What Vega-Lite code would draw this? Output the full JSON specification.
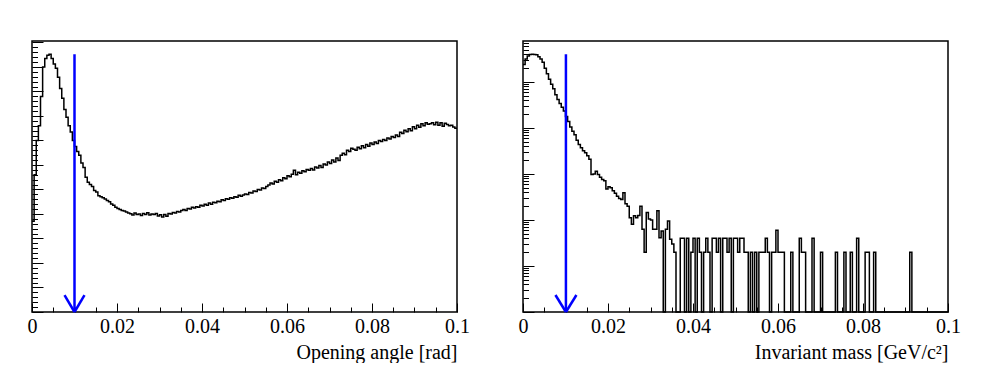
{
"$schema": "https://vega.github.io/schema/vega-lite/v6.json",
"padding": {"left": 26, "top": 40, "right": 0, "bottom": 0},
"background": "white",
"spacing": 46,
"config": {
  "font": "Liberation Serif",
  "view": {"stroke": "#000", "strokeWidth": 1.5},
  "axis": {"grid": false, "domain": false, "tickColor": "#000", "tickWidth": 1, "labelFont": "Liberation Serif", "labelFontSize": 20, "labelColor": "#000", "titleFont": "Liberation Serif", "titleFontSize": 20, "titleFontWeight": "normal", "titleColor": "#000"}
},
"datasets": {
  "angle": [
{"x":0,"c":370},{"x":0.0005,"c":560},{"x":0.001,"c":700},{"x":0.0015,"c":760},{"x":0.002,"c":880},{"x":0.0025,"c":1000},{"x":0.003,"c":1035},{"x":0.0035,"c":1048},{"x":0.004,"c":1052},{"x":0.0045,"c":1035},
{"x":0.005,"c":1012},{"x":0.0055,"c":995},{"x":0.006,"c":958},{"x":0.0065,"c":912},{"x":0.007,"c":872},{"x":0.0075,"c":826},{"x":0.008,"c":795},{"x":0.0085,"c":760},{"x":0.009,"c":735},{"x":0.0095,"c":700},
{"x":0.01,"c":675},{"x":0.0105,"c":655},{"x":0.011,"c":640},{"x":0.0115,"c":608},{"x":0.012,"c":590},{"x":0.0125,"c":550},{"x":0.013,"c":530},{"x":0.0135,"c":520},{"x":0.014,"c":512},{"x":0.0145,"c":496},
{"x":0.015,"c":490},{"x":0.0155,"c":474},{"x":0.016,"c":470},{"x":0.0165,"c":466},{"x":0.017,"c":461},{"x":0.0175,"c":455},{"x":0.018,"c":450},{"x":0.0185,"c":441},{"x":0.019,"c":436},{"x":0.0195,"c":428},
{"x":0.02,"c":422},{"x":0.0205,"c":418},{"x":0.021,"c":414},{"x":0.0215,"c":412},{"x":0.022,"c":408},{"x":0.0225,"c":404},{"x":0.023,"c":401},{"x":0.0235,"c":396},{"x":0.024,"c":404},{"x":0.0245,"c":398},
{"x":0.025,"c":400},{"x":0.0255,"c":394},{"x":0.026,"c":402},{"x":0.0265,"c":398},{"x":0.027,"c":405},{"x":0.0275,"c":396},{"x":0.028,"c":400},{"x":0.0285,"c":398},{"x":0.029,"c":402},{"x":0.0295,"c":392},
{"x":0.03,"c":397},{"x":0.0305,"c":388},{"x":0.031,"c":398},{"x":0.0315,"c":391},{"x":0.032,"c":402},{"x":0.0325,"c":400},{"x":0.033,"c":406},{"x":0.0335,"c":404},{"x":0.034,"c":410},{"x":0.0345,"c":408},
{"x":0.035,"c":414},{"x":0.0355,"c":418},{"x":0.036,"c":414},{"x":0.0365,"c":422},{"x":0.037,"c":420},{"x":0.0375,"c":428},{"x":0.038,"c":424},{"x":0.0385,"c":430},{"x":0.039,"c":428},{"x":0.0395,"c":436},
{"x":0.04,"c":433},{"x":0.0405,"c":440},{"x":0.041,"c":436},{"x":0.0415,"c":445},{"x":0.042,"c":440},{"x":0.0425,"c":448},{"x":0.043,"c":446},{"x":0.0435,"c":452},{"x":0.044,"c":450},{"x":0.0445,"c":458},
{"x":0.045,"c":455},{"x":0.0455,"c":462},{"x":0.046,"c":460},{"x":0.0465,"c":466},{"x":0.047,"c":464},{"x":0.0475,"c":470},{"x":0.048,"c":468},{"x":0.0485,"c":476},{"x":0.049,"c":472},{"x":0.0495,"c":478},
{"x":0.05,"c":482},{"x":0.0505,"c":480},{"x":0.051,"c":488},{"x":0.0515,"c":486},{"x":0.052,"c":494},{"x":0.0525,"c":492},{"x":0.053,"c":500},{"x":0.0535,"c":498},{"x":0.054,"c":506},{"x":0.0545,"c":504},
{"x":0.055,"c":512},{"x":0.0555,"c":518},{"x":0.056,"c":526},{"x":0.0565,"c":522},{"x":0.057,"c":534},{"x":0.0575,"c":530},{"x":0.058,"c":540},{"x":0.0585,"c":536},{"x":0.059,"c":548},{"x":0.0595,"c":544},
{"x":0.06,"c":556},{"x":0.0605,"c":552},{"x":0.061,"c":562},{"x":0.0615,"c":578},{"x":0.062,"c":560},{"x":0.0625,"c":570},{"x":0.063,"c":566},{"x":0.0635,"c":576},{"x":0.064,"c":572},{"x":0.0645,"c":582},
{"x":0.065,"c":578},{"x":0.0655,"c":586},{"x":0.066,"c":580},{"x":0.0665,"c":592},{"x":0.067,"c":588},{"x":0.0675,"c":598},{"x":0.068,"c":590},{"x":0.0685,"c":604},{"x":0.069,"c":600},{"x":0.0695,"c":612},
{"x":0.07,"c":606},{"x":0.0705,"c":620},{"x":0.071,"c":612},{"x":0.0715,"c":628},{"x":0.072,"c":618},{"x":0.0725,"c":640},{"x":0.073,"c":648},{"x":0.0735,"c":642},{"x":0.074,"c":660},{"x":0.0745,"c":655},
{"x":0.075,"c":668},{"x":0.0755,"c":664},{"x":0.076,"c":660},{"x":0.0765,"c":672},{"x":0.077,"c":666},{"x":0.0775,"c":678},{"x":0.078,"c":670},{"x":0.0785,"c":684},{"x":0.079,"c":676},{"x":0.0795,"c":690},
{"x":0.08,"c":684},{"x":0.0805,"c":694},{"x":0.081,"c":688},{"x":0.0815,"c":700},{"x":0.082,"c":696},{"x":0.0825,"c":704},{"x":0.083,"c":700},{"x":0.0835,"c":710},{"x":0.084,"c":706},{"x":0.0845,"c":716},
{"x":0.085,"c":712},{"x":0.0855,"c":722},{"x":0.086,"c":716},{"x":0.0865,"c":734},{"x":0.087,"c":728},{"x":0.0875,"c":742},{"x":0.088,"c":736},{"x":0.0885,"c":748},{"x":0.089,"c":740},{"x":0.0895,"c":756},
{"x":0.09,"c":748},{"x":0.0905,"c":762},{"x":0.091,"c":754},{"x":0.0915,"c":768},{"x":0.092,"c":760},{"x":0.0925,"c":772},{"x":0.093,"c":766},{"x":0.0935,"c":768},{"x":0.094,"c":772},{"x":0.0945,"c":764},
{"x":0.095,"c":774},{"x":0.0955,"c":762},{"x":0.096,"c":772},{"x":0.0965,"c":758},{"x":0.097,"c":770},{"x":0.0975,"c":765},{"x":0.098,"c":760},{"x":0.0985,"c":762},{"x":0.099,"c":755},{"x":0.0995,"c":750},
{"x":0.1,"c":750}
  ],
  "mass": [
{"x":0,"c":240000},{"x":0.0005,"c":316000},{"x":0.001,"c":367000},{"x":0.0015,"c":398000},{"x":0.002,"c":400000},{"x":0.0025,"c":398000},{"x":0.003,"c":389000},{"x":0.0035,"c":355000},{"x":0.004,"c":316000},{"x":0.0045,"c":269000},
{"x":0.005,"c":200000},{"x":0.0055,"c":151000},{"x":0.006,"c":115000},{"x":0.0065,"c":89000},{"x":0.007,"c":71000},{"x":0.0075,"c":52500},{"x":0.008,"c":41700},{"x":0.0085,"c":33900},{"x":0.009,"c":28200},{"x":0.0095,"c":23400},
{"x":0.01,"c":17800},{"x":0.0105,"c":13800},{"x":0.011,"c":10500},{"x":0.0115,"c":8500},{"x":0.012,"c":7100},{"x":0.0125,"c":5400},{"x":0.013,"c":4400},{"x":0.0135,"c":3700},{"x":0.014,"c":3200},{"x":0.0145,"c":2900},
{"x":0.015,"c":2500},{"x":0.0155,"c":2100},{"x":0.016,"c":980},{"x":0.0165,"c":1000},{"x":0.017,"c":1150},{"x":0.0175,"c":980},{"x":0.018,"c":850},{"x":0.0185,"c":760},{"x":0.019,"c":710},{"x":0.0195,"c":470},
{"x":0.02,"c":525},{"x":0.0205,"c":500},{"x":0.021,"c":430},{"x":0.0215,"c":380},{"x":0.022,"c":330},{"x":0.0225,"c":295},{"x":0.023,"c":280},{"x":0.0235,"c":390},{"x":0.024,"c":225},{"x":0.0245,"c":200},
{"x":0.025,"c":112},{"x":0.0255,"c":81},{"x":0.026,"c":123},{"x":0.0265,"c":112},{"x":0.027,"c":126},{"x":0.0275,"c":200},{"x":0.028,"c":63},{"x":0.0285,"c":20},{"x":0.029,"c":145},{"x":0.0295,"c":105},
{"x":0.03,"c":100},{"x":0.0305,"c":63},{"x":0.031,"c":63},{"x":0.0315,"c":158},{"x":0.032,"c":41},{"x":0.0325,"c":58},{"x":0.033,"c":0},{"x":0.0335,"c":63},{"x":0.034,"c":95},{"x":0.0345,"c":38},
{"x":0.035,"c":30},{"x":0.0355,"c":20},{"x":0.036,"c":0},{"x":0.0365,"c":0},{"x":0.037,"c":40},{"x":0.0375,"c":40},{"x":0.038,"c":0},{"x":0.0385,"c":40},{"x":0.039,"c":0},{"x":0.0395,"c":20},
{"x":0.04,"c":40},{"x":0.0405,"c":0},{"x":0.041,"c":40},{"x":0.0415,"c":20},{"x":0.042,"c":0},{"x":0.0425,"c":20},{"x":0.043,"c":40},{"x":0.0435,"c":20},{"x":0.044,"c":0},{"x":0.0445,"c":40},
{"x":0.045,"c":40},{"x":0.0455,"c":20},{"x":0.046,"c":40},{"x":0.0465,"c":0},{"x":0.047,"c":40},{"x":0.0475,"c":40},{"x":0.048,"c":20},{"x":0.0485,"c":40},{"x":0.049,"c":0},{"x":0.0495,"c":40},
{"x":0.05,"c":40},{"x":0.0505,"c":20},{"x":0.051,"c":40},{"x":0.0515,"c":40},{"x":0.052,"c":20},{"x":0.0525,"c":20},{"x":0.053,"c":0},{"x":0.0535,"c":20},{"x":0.054,"c":0},{"x":0.0545,"c":20},
{"x":0.055,"c":0},{"x":0.0555,"c":20},{"x":0.056,"c":20},{"x":0.0565,"c":20},{"x":0.057,"c":40},{"x":0.0575,"c":20},{"x":0.058,"c":0},{"x":0.0585,"c":20},{"x":0.059,"c":20},{"x":0.0595,"c":60},
{"x":0.06,"c":20},{"x":0.0605,"c":20},{"x":0.061,"c":20},{"x":0.0615,"c":0},{"x":0.062,"c":0},{"x":0.0625,"c":0},{"x":0.063,"c":20},{"x":0.0635,"c":0},{"x":0.064,"c":0},{"x":0.0645,"c":0},
{"x":0.065,"c":40},{"x":0.0655,"c":20},{"x":0.066,"c":20},{"x":0.0665,"c":0},{"x":0.067,"c":0},{"x":0.0675,"c":0},{"x":0.068,"c":40},{"x":0.0685,"c":0},{"x":0.069,"c":0},{"x":0.0695,"c":0},
{"x":0.07,"c":20},{"x":0.0705,"c":0},{"x":0.071,"c":0},{"x":0.0715,"c":0},{"x":0.072,"c":0},{"x":0.0725,"c":0},{"x":0.073,"c":0},{"x":0.0735,"c":20},{"x":0.074,"c":0},{"x":0.0745,"c":0},
{"x":0.075,"c":0},{"x":0.0755,"c":20},{"x":0.076,"c":0},{"x":0.0765,"c":0},{"x":0.077,"c":20},{"x":0.0775,"c":0},{"x":0.078,"c":0},{"x":0.0785,"c":40},{"x":0.079,"c":0},{"x":0.0795,"c":0},
{"x":0.08,"c":0},{"x":0.0805,"c":20},{"x":0.081,"c":20},{"x":0.0815,"c":0},{"x":0.082,"c":0},{"x":0.0825,"c":20},{"x":0.083,"c":0},{"x":0.0835,"c":0},{"x":0.084,"c":0},{"x":0.0845,"c":0},
{"x":0.085,"c":0},{"x":0.0855,"c":0},{"x":0.086,"c":0},{"x":0.0865,"c":0},{"x":0.087,"c":0},{"x":0.0875,"c":0},{"x":0.088,"c":0},{"x":0.0885,"c":0},{"x":0.089,"c":0},{"x":0.0895,"c":0},
{"x":0.09,"c":0},{"x":0.0905,"c":0},{"x":0.091,"c":20},{"x":0.0915,"c":0},{"x":0.092,"c":0},{"x":0.0925,"c":0},{"x":0.093,"c":0},{"x":0.0935,"c":0},{"x":0.094,"c":0},{"x":0.0945,"c":0},
{"x":0.095,"c":0},{"x":0.0955,"c":0},{"x":0.096,"c":0},{"x":0.0965,"c":0},{"x":0.097,"c":0},{"x":0.0975,"c":0},{"x":0.098,"c":0},{"x":0.0985,"c":0},{"x":0.099,"c":0},{"x":0.0995,"c":0},
{"x":0.1,"c":0}
  ],
  "arrowA": [{"x":0.01,"x2":0.01,"y":1052,"y2":0},{"x":0.00765,"x2":0.01,"y":69,"y2":0},{"x":0.01235,"x2":0.01,"y":69,"y2":0}],
  "arrowM": [{"x":0.0101,"x2":0.0101,"y":400000,"y2":1},{"x":0.00763,"x2":0.0101,"y":2.34,"y2":1},{"x":0.01257,"x2":0.0101,"y":2.34,"y2":1}]
},
"hconcat": [
  {
    "width": 425, "height": 271,
    "resolve": {"axis": {"x": "independent", "y": "independent"}},
    "layer": [
      {
        "data": {"name": "angle"},
        "mark": {"type": "line", "interpolate": "step-after", "color": "#000", "strokeWidth": 1.5},
        "encoding": {
          "x": {"field": "x", "type": "quantitative", "scale": {"domain": [0, 0.1], "nice": false, "zero": false},
                "axis": {"orient": "bottom", "values": [0, 0.02, 0.04, 0.06, 0.08, 0.1], "format": ".2~f", "tickSize": -9, "labelPadding": 13, "labelFlush": false, "labelFont": "Liberation Serif", "labelFontSize": 20, "title": "Opening angle [rad]", "titleFont": "Liberation Serif", "titleAnchor": "end", "titlePadding": 6}},
          "y": {"field": "c", "type": "quantitative", "scale": {"domain": [0, 1106], "nice": false, "zero": false},
                "axis": {"orient": "left", "values": [0,100,200,300,400,500,600,700,800,900,1000,1100], "tickSize": -11, "labels": false, "title": null}}
        }
      },
      {
        "data": {"name": "arrowA"},
        "mark": {"type": "rule", "color": "#0000ff", "strokeWidth": 2.5},
        "encoding": {
          "x": {"field": "x", "type": "quantitative", "axis": {"orient": "bottom", "values": [0.005,0.01,0.015,0.025,0.03,0.035,0.045,0.05,0.055,0.065,0.07,0.075,0.085,0.09,0.095], "tickSize": -5, "labels": false, "title": null}},
          "x2": {"field": "x2"},
          "y": {"field": "y", "type": "quantitative", "axis": {"orient": "left", "values": [20,40,60,80,120,140,160,180,220,240,260,280,320,340,360,380,420,440,460,480,520,540,560,580,620,640,660,680,720,740,760,780,820,840,860,880,920,940,960,980,1020,1040,1060,1080], "tickSize": -5.5, "labels": false, "title": null}},
          "y2": {"field": "y2"}
        }
      }
    ]
  },
  {
    "width": 425, "height": 271,
    "resolve": {"axis": {"x": "independent", "y": "independent"}},
    "layer": [
      {
        "data": {"name": "mass"},
        "mark": {"type": "line", "interpolate": "step-after", "color": "#000", "strokeWidth": 1.5, "invalid": "show"},
        "encoding": {
          "x": {"field": "x", "type": "quantitative", "scale": {"domain": [0, 0.1], "nice": false, "zero": false},
                "axis": {"orient": "bottom", "values": [0, 0.02, 0.04, 0.06, 0.08, 0.1], "format": ".2~f", "tickSize": -9, "labelPadding": 13, "labelFlush": false, "labelFont": "Liberation Serif", "labelFontSize": 20, "title": "Invariant mass [GeV/c²]", "titleFont": "Liberation Serif", "titleAnchor": "end", "titlePadding": 6}},
          "y": {"field": "c", "type": "quantitative", "scale": {"type": "log", "domain": [1, 778000], "nice": false, "clamp": true},
                "axis": {"orient": "left", "values": [1,10,100,1000,10000,100000], "tickSize": -11, "labels": false, "title": null}}
        }
      },
      {
        "data": {"name": "arrowM"},
        "mark": {"type": "rule", "color": "#0000ff", "strokeWidth": 2.5},
        "encoding": {
          "x": {"field": "x", "type": "quantitative", "axis": {"orient": "bottom", "values": [0.005,0.01,0.015,0.025,0.03,0.035,0.045,0.05,0.055,0.065,0.07,0.075,0.085,0.09,0.095], "tickSize": -5, "labels": false, "title": null}},
          "x2": {"field": "x2"},
          "y": {"field": "y", "type": "quantitative", "axis": {"orient": "left", "values": [2,3,4,5,6,7,8,9,20,30,40,50,60,70,80,90,200,300,400,500,600,700,800,900,2000,3000,4000,5000,6000,7000,8000,9000,20000,30000,40000,50000,60000,70000,80000,90000,200000,300000,400000,500000,600000,700000], "tickSize": -5.5, "labels": false, "title": null}},
          "y2": {"field": "y2"}
        }
      }
    ]
  }
]
}
